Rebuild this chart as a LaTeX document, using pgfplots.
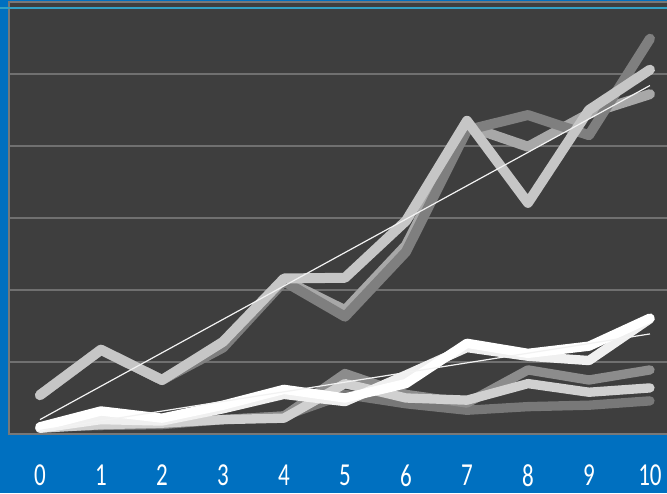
\documentclass[border=0pt]{standalone}
\usepackage{fontspec}
\setmainfont{Carlito}
\usepackage{graphicx}
\usepackage{pgfplots}
\pgfplotsset{compat=1.18}

\definecolor{bgblue}{RGB}{0,112,192}
\definecolor{plotbg}{RGB}{62,62,62}
\definecolor{gridc}{RGB}{112,112,112}
\definecolor{framec}{RGB}{120,120,120}
\definecolor{topline}{RGB}{50,160,196}
\definecolor{sdark}{RGB}{127,127,127}
\definecolor{smid}{RGB}{168,168,168}
\definecolor{slight}{RGB}{198,198,198}
\definecolor{lw1}{RGB}{255,255,255}
\definecolor{lw2}{RGB}{240,240,240}
\definecolor{lg1}{RGB}{140,140,140}
\definecolor{lg2}{RGB}{208,208,208}
\definecolor{lg3}{RGB}{120,120,120}

% narrow tick numbers
\newcommand\nt[1]{\scalebox{0.72}[1]{#1}}

\begin{document}
\begin{tikzpicture}
  \useasboundingbox (0pt,0pt) rectangle (500.25pt,369.75pt);
  \clip (0pt,0pt) rectangle (500.25pt,369.75pt);
  \fill[bgblue] (0pt,0pt) rectangle (500.25pt,369.75pt);
  \begin{axis}[
    at={(7.1pt,44.25pt)}, anchor=south west,
    scale only axis,
    width=503.25pt, height=324pt,
    xmin=-0.5, xmax=10.5, ymin=0, ymax=6,
    axis background/.style={fill=plotbg},
    axis line style={draw=framec, line width=1.5pt},
    xtick={0,1,2,3,4,5,6,7,8,9,10},
    xticklabels={\nt{0},\nt{1},\nt{2},\nt{3},\nt{4},\nt{5},\nt{6},\nt{7},\nt{8},\nt{9},\nt{10}},
    ytick={1,2,3,4,5},
    yticklabels={},
    major tick length=0pt,
    ymajorgrids,
    grid style={draw=gridc, line width=1.5pt},
    xticklabel style={anchor=center, yshift=-31pt, text=white,
      font=\fontsize{24}{28}\selectfont},
    every axis plot/.append style={line join=round, line cap=round, no markers},
    clip=false,
  ]
    % upper group
    \addplot[smid, line width=7.5pt] coordinates {(0,0.54)(1,1.17)(2,0.75)(3,1.24)(4,2.14)(5,1.72)(6,2.62)(7,4.28)(8,3.99)(9,4.45)(10,4.72)};
    \addplot[sdark, line width=7.5pt] coordinates {(0,0.54)(1,1.17)(2,0.75)(3,1.2)(4,2.12)(5,1.63)(6,2.53)(7,4.22)(8,4.43)(9,4.15)(10,5.49)};
    \addplot[slight, line width=7.5pt] coordinates {(0,0.54)(1,1.17)(2,0.75)(3,1.28)(4,2.16)(5,2.17)(6,2.96)(7,4.35)(8,3.21)(9,4.5)(10,5.06)};
    % lower group
    \addplot[lg3, line width=7pt] coordinates {(0,0.1)(1,0.12)(2,0.13)(3,0.2)(4,0.25)(5,0.55)(6,0.42)(7,0.33)(8,0.38)(9,0.4)(10,0.46)};
    \addplot[lg1, line width=7pt] coordinates {(0,0.1)(1,0.12)(2,0.14)(3,0.2)(4,0.25)(5,0.84)(6,0.55)(7,0.43)(8,0.89)(9,0.75)(10,0.89)};
    \addplot[lg2, line width=7pt] coordinates {(0,0.08)(1,0.13)(2,0.15)(3,0.2)(4,0.22)(5,0.7)(6,0.5)(7,0.47)(8,0.7)(9,0.58)(10,0.64)};
    \addplot[lw2, line width=7pt] coordinates {(0,0.08)(1,0.2)(2,0.18)(3,0.35)(4,0.55)(5,0.45)(6,0.82)(7,1.2)(8,1.08)(9,1.02)(10,1.6)};
    \addplot[lw1, line width=7pt] coordinates {(0,0.1)(1,0.32)(2,0.22)(3,0.4)(4,0.62)(5,0.5)(6,0.7)(7,1.26)(8,1.12)(9,1.22)(10,1.61)};
    % linear trends
    \addplot[white!90!gray, line width=0.9pt, line cap=butt] coordinates {(0,0.2)(10,4.84)};
    \addplot[white!90!gray, line width=0.9pt, line cap=butt] coordinates {(0,0.05)(10,1.39)};
  \end{axis}
  \draw[topline, line width=1.5pt] (0pt,363.75pt) -- (500.25pt,363.75pt);
\end{tikzpicture}
\end{document}
